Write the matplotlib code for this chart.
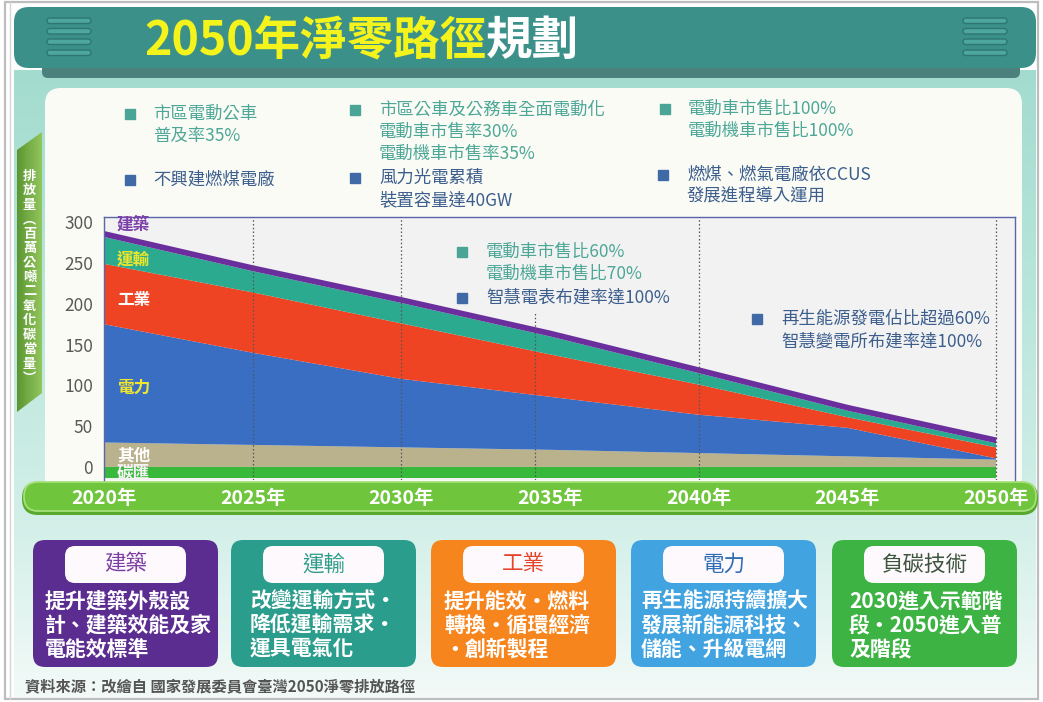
import numpy as np
import matplotlib
matplotlib.use('Agg')
import matplotlib.pyplot as plt
from matplotlib.patches import FancyBboxPatch, Polygon, Rectangle
from matplotlib.colors import to_rgb

plt.rcParams['font.family'] = ['Noto Sans CJK TC', 'DejaVu Sans']

# ---------------- data ----------------
years = [2020, 2025, 2030, 2035, 2040, 2045, 2050]
year_labels = ['2020年', '2025年', '2030年', '2035年', '2040年', '2045年', '2050年']
sink = [-14, -14, -14, -14, -14, -14, -14]
others = [30, 27, 24, 21, 17, 13, 9]
power = [145, 113, 84, 65, 47, 35, 1.5]
industry = [74, 74, 68, 52, 37, 13, 13.5]
transport = [33, 26, 25, 22, 14, 8, 5]
building = [6, 6, 6, 6, 6, 6, 6]
y_ticks = [0, 50, 100, 150, 200, 250, 300]
milestone_full = [2025, 2030, 2040, 2050]
milestone_part = 2034.5
milestone_part_top = 189

series_names = ['建築', '運輸', '工業', '電力', '其他', '碳匯']

box_titles = ['建築', '運輸', '工業', '電力', '負碳技術']
box_lines = [
    ['提升建築外殼設', '計、建築效能及家', '電能效標準'],
    ['改變運輸方式·', '降低運輸需求·', '運具電氣化'],
    ['提升能效·燃料', '轉換·循環經濟', '·創新製程'],
    ['再生能源持續擴大', '發展新能源科技、', '儲能、升級電網'],
    ['2030進入示範階', '段·2050進入普', '及階段'],
]

W, H = 1043, 702
fig = plt.figure(figsize=(W / 100, H / 100), dpi=100)
fig.patch.set_facecolor('white')

# ---------------- background axes (pixel coords) ----------------
bg = fig.add_axes([0, 0, 1, 1], zorder=0)
bg.set_xlim(0, W)
bg.set_ylim(H, 0)
bg.axis('off')

# mint gradient
stops_y = [70, 300, 520, 700]
stops_c = [to_rgb('#A3DCCF'), to_rgb('#B9E6DB'), to_rgb('#D2EFE8'), to_rgb('#F3FAF8')]
ys = np.linspace(70, 700, 200)
grad = np.zeros((200, 1, 3))
for k in range(3):
    grad[:, 0, k] = np.interp(ys, stops_y, [c[k] for c in stops_c])
bg.imshow(grad, extent=(14, 1036, 700, 70), origin='upper', aspect='auto', zorder=0)

# outer border
bg.add_patch(Rectangle((5, 2), 1033, 697, fill=False, ec='#BDBDBD', lw=1.6, zorder=1))
bg.plot([10, 10], [2, 699], color='#D5D5D5', lw=1, zorder=1)

# header
bg.add_patch(FancyBboxPatch((42, 55), 978, 23, boxstyle='round,pad=0,rounding_size=6',
                            fc='#4B807D', ec='none', zorder=2))
bg.add_patch(FancyBboxPatch((14, 7), 1022, 61, boxstyle='round,pad=0,rounding_size=15',
                            fc='#3B918A', ec='none', zorder=3))
for x0 in (47, 963):
    for yy in (18, 28.5, 39, 50):
        bg.add_patch(FancyBboxPatch((x0, yy), 44, 5.5, boxstyle='round,pad=0,rounding_size=2.7',
                                    fc='#4DA79F', ec='#2E7671', lw=1.0, zorder=4))

t1 = bg.text(144, 41, '2050年淨零路徑', color='#F5F31C', fontsize=33.5, fontweight='bold',
             ha='left', va='center', zorder=5)
fig.canvas.draw()
bb = t1.get_window_extent()
bg.text(bb.x1, 41, '規劃', color='white', fontsize=33.5, fontweight='bold',
        ha='left', va='center', zorder=5)

# white chart panel
bg.add_patch(FancyBboxPatch((45, 88), 977, 405, boxstyle='round,pad=0,rounding_size=16',
                            fc='#FBFBF6', ec='none', zorder=2))

# y-label ribbon
rib = Polygon([(17, 150), (42, 132), (42, 393), (17, 412)], closed=True, fc='none', ec='none', zorder=3)
bg.add_patch(rib)
rg = np.zeros((1, 50, 3))
for k in range(3):
    rg[0, :, k] = np.linspace(to_rgb('#5C9632')[k], to_rgb('#92C65E')[k], 50)
im = bg.imshow(rg, extent=(17, 42, 412, 132), origin='upper', aspect='auto', zorder=3)
im.set_clip_path(rib)
ylabel_chars = list('排放量') + ['︵'] + list('百萬公噸二氧化碳當量') + ['︶']
bg.text(29.5, 277, '\n'.join(ylabel_chars), color='white', fontsize=9.5, fontweight='bold',
        ha='center', va='center', linespacing=1.04, zorder=4)

# timeline bar
bg.add_patch(FancyBboxPatch((22, 482), 1016, 33, boxstyle='round,pad=0,rounding_size=16',
                            fc='#58A82E', ec='none', zorder=3))
bg.add_patch(FancyBboxPatch((24, 482), 1012, 29, boxstyle='round,pad=0,rounding_size=14',
                            fc='#6FC53C', ec='#A5E07A', lw=1.3, zorder=4))

# bottom boxes
box_x = [33, 231, 431, 631, 832]
box_w = 185
box_colors = ['#5C2D91', '#2A9D8C', '#F7851E', '#41A3E0', '#3CB343']
title_colors = ['#7A3DA3', '#2E9E8A', '#E4452A', '#2F6DB5', '#3D553D']
text_off = [12, 19, 13, 10, 17]
for i in range(5):
    x0 = box_x[i]
    bg.add_patch(FancyBboxPatch((x0, 540), box_w, 127, boxstyle='round,pad=0,rounding_size=12',
                                fc=box_colors[i], ec='none', zorder=3))
    bg.add_patch(FancyBboxPatch((x0 + 32, 546), 121, 37, boxstyle='round,pad=0,rounding_size=10',
                                fc='#FEF9FD', ec='none', zorder=4))
    bg.text(x0 + 92.5, 564.5, box_titles[i], color=title_colors[i], fontsize=15.5,
            ha='center', va='center', zorder=5)
    for j, line in enumerate(box_lines[i]):
        bg.text(x0 + text_off[i], 601 + j * 24, line, color='white', fontsize=15,
                fontweight='bold', ha='left', va='center', zorder=5)

bg.text(25, 686, '資料來源：改繪自 國家發展委員會臺灣2050淨零排放路徑', color='#555555',
        fontsize=11, fontweight='bold', ha='left', va='center', zorder=5)

# ---------------- chart axes ----------------
ax = fig.add_axes([104 / W, 1 - 480 / H, (1015 - 104) / W, (480 - 217) / H], zorder=2)
ax.set_xlim(2020, 2050.64)
ax.set_ylim(-16, 306.4)
ax.set_facecolor('#F2F2F2')
for name, s in ax.spines.items():
    s.set_color('#5A66A8')
    s.set_linewidth(1.0)
ax.spines['bottom'].set_visible(False)

ax.fill_between(years, sink, 0, color='#38B93B', lw=0, zorder=1)
ax.stackplot(years, others, power, industry, transport, building,
             colors=['#BAB28D', '#3A6EC3', '#EE4424', '#2CAA8F', '#6A2E9D'], lw=0, zorder=1)
top = np.array(others) + np.array(power) + np.array(industry) + np.array(transport) + np.array(building)
ax.plot(years, top, color='#6A2E9D', lw=1.5, zorder=2)

for xv in milestone_full:
    ax.vlines(xv, -16, 306.4, colors='#555555', linestyles=(0, (1.2, 1.8)), lw=0.9, zorder=3)
ax.vlines(milestone_part, -16, milestone_part_top, colors='#555555', linestyles=(0, (1.2, 1.8)),
          lw=0.9, zorder=3)

ax.set_xticks(years)
ax.set_xticklabels(year_labels, fontweight='bold')
ax.tick_params(axis='x', length=0, pad=6.5, labelcolor='white', labelsize=14)
ax.set_yticks(y_ticks)
ax.set_yticklabels([str(v) for v in y_ticks])
ax.tick_params(axis='y', length=0, pad=8, labelcolor='#595959', labelsize=12.5)

label_pos = [296.5, 254, 205, 97, 14.5, -7.5]
label_cols = ['#7B3FA8', '#E9E62E', 'white', '#F0E62E', 'white', '#F4F4F4']
for nm, yp, c in zip(series_names, label_pos, label_cols):
    ax.text(2020.44, yp, nm, color=c, fontsize=12, fontweight='bold', ha='left', va='center', zorder=4)

# ---------------- overlay annotations ----------------
ov = fig.add_axes([0, 0, 1, 1], zorder=3)
ov.set_xlim(0, W)
ov.set_ylim(H, 0)
ov.axis('off')
ov.patch.set_alpha(0)

teal_b, teal_t = '#4BA596', '#4CA797'
blue_b, blue_t = '#3F6AA6', '#3C5E8D'
notes = [
    (130, 153, 114, ['市區電動公車', '普及率35%'], teal_b, teal_t),
    (355, 379, 110, ['市區公車及公務車全面電動化', '電動車市售率30%', '電動機車市售率35%'], teal_b, teal_t),
    (665, 688, 109, ['電動車市售比100%', '電動機車市售比100%'], teal_b, teal_t),
    (130, 153, 180, ['不興建燃煤電廠'], blue_b, blue_t),
    (355, 379, 178, ['風力光電累積', '裝置容量達40GW'], blue_b, blue_t),
    (663, 687, 175, ['燃煤、燃氣電廠依CCUS', '發展進程導入運用'], blue_b, blue_t),
    (462, 486, 252, ['電動車市售比60%', '電動機車市售比70%'], teal_b, teal_t),
    (462, 486, 298, ['智慧電表布建率達100%'], blue_b, blue_t),
    (757, 781, 319, ['再生能源發電佔比超過60%', '智慧變電所布建率達100%'], blue_b, blue_t),
]
for bx, tx, ty, lines, bc, tc in notes:
    ov.plot([bx], [ty], marker='s', markersize=6.5, color=bc, lw=0)
    for j, line in enumerate(lines):
        ov.text(tx, ty + j * 22, line, color=tc, fontsize=12.5, ha='left', va='center')

fig.savefig('out.png', dpi=100)
